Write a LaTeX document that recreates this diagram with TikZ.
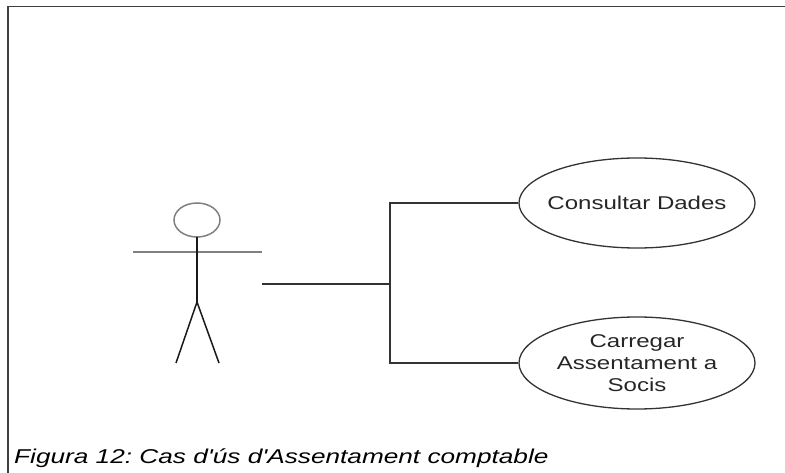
\documentclass[tikz,border=0pt]{standalone}
\usepackage{fontspec}
\setmainfont{Liberation Sans}[Ligatures=TeXOff]
\usepackage{graphicx}
\usetikzlibrary{shapes.geometric}
\frenchspacing
\newcommand{\stretchx}[1]{\makebox[0pt]{\scalebox{1.3}[1]{#1}}}
\newcommand{\stretchcap}[1]{\scalebox{1.31}[1]{#1}}
\tikzset{
  frameline/.style={draw=black!75, line width=1.3pt},
  conn/.style={draw=black!80, line width=1.8pt},
  usecase/.style={ellipse, draw=black!80, line width=1.3pt, minimum width=236pt, minimum height=90pt, inner sep=0pt, align=center, font=\fontsize{18.5}{22}\selectfont, text=black!85},
  actorgray/.style={draw=black!50, line width=1.5pt},
  actorblack/.style={draw=black!90, line width=1.5pt},
  caption/.style={font=\fontsize{20}{24}\selectfont\itshape, text=black, inner sep=0pt, anchor=base west}
}
\begin{document}
\begin{tikzpicture}[x=1pt,y=-1pt]
\useasboundingbox (0,0) rectangle (785,473);
% frame
\draw[frameline] (8,473) -- (8,6.5) -- (785,6.5);
% actor
\draw[actorgray] (197,220) ellipse [x radius=23, y radius=17];
\draw[actorgray] (133,252) -- (262,252);
\draw[actorblack] (197,237) -- (197,302);
\draw[actorblack] (176,363) -- (197,302) -- (219,363);
% use cases
\node[usecase] (uc1) at (637,203) {\stretchx{Consultar Dades}};
\node[usecase, minimum height=92pt] (uc2) at (637,363) {\stretchx{Carregar}\\\stretchx{Assentament a}\\\stretchx{Socis}};
% connectors
\coordinate (actor) at (262,284);
\coordinate (j) at (390,284);
\draw[conn] (actor) -- (j);
\draw[conn] (uc1.west) -| (j) |- (uc2.west);
% caption
\node[caption] (cap) at (14,463) {\stretchcap{Figura 12: Cas d'ús d'Assentament comptable}};
\end{tikzpicture}
\end{document}
